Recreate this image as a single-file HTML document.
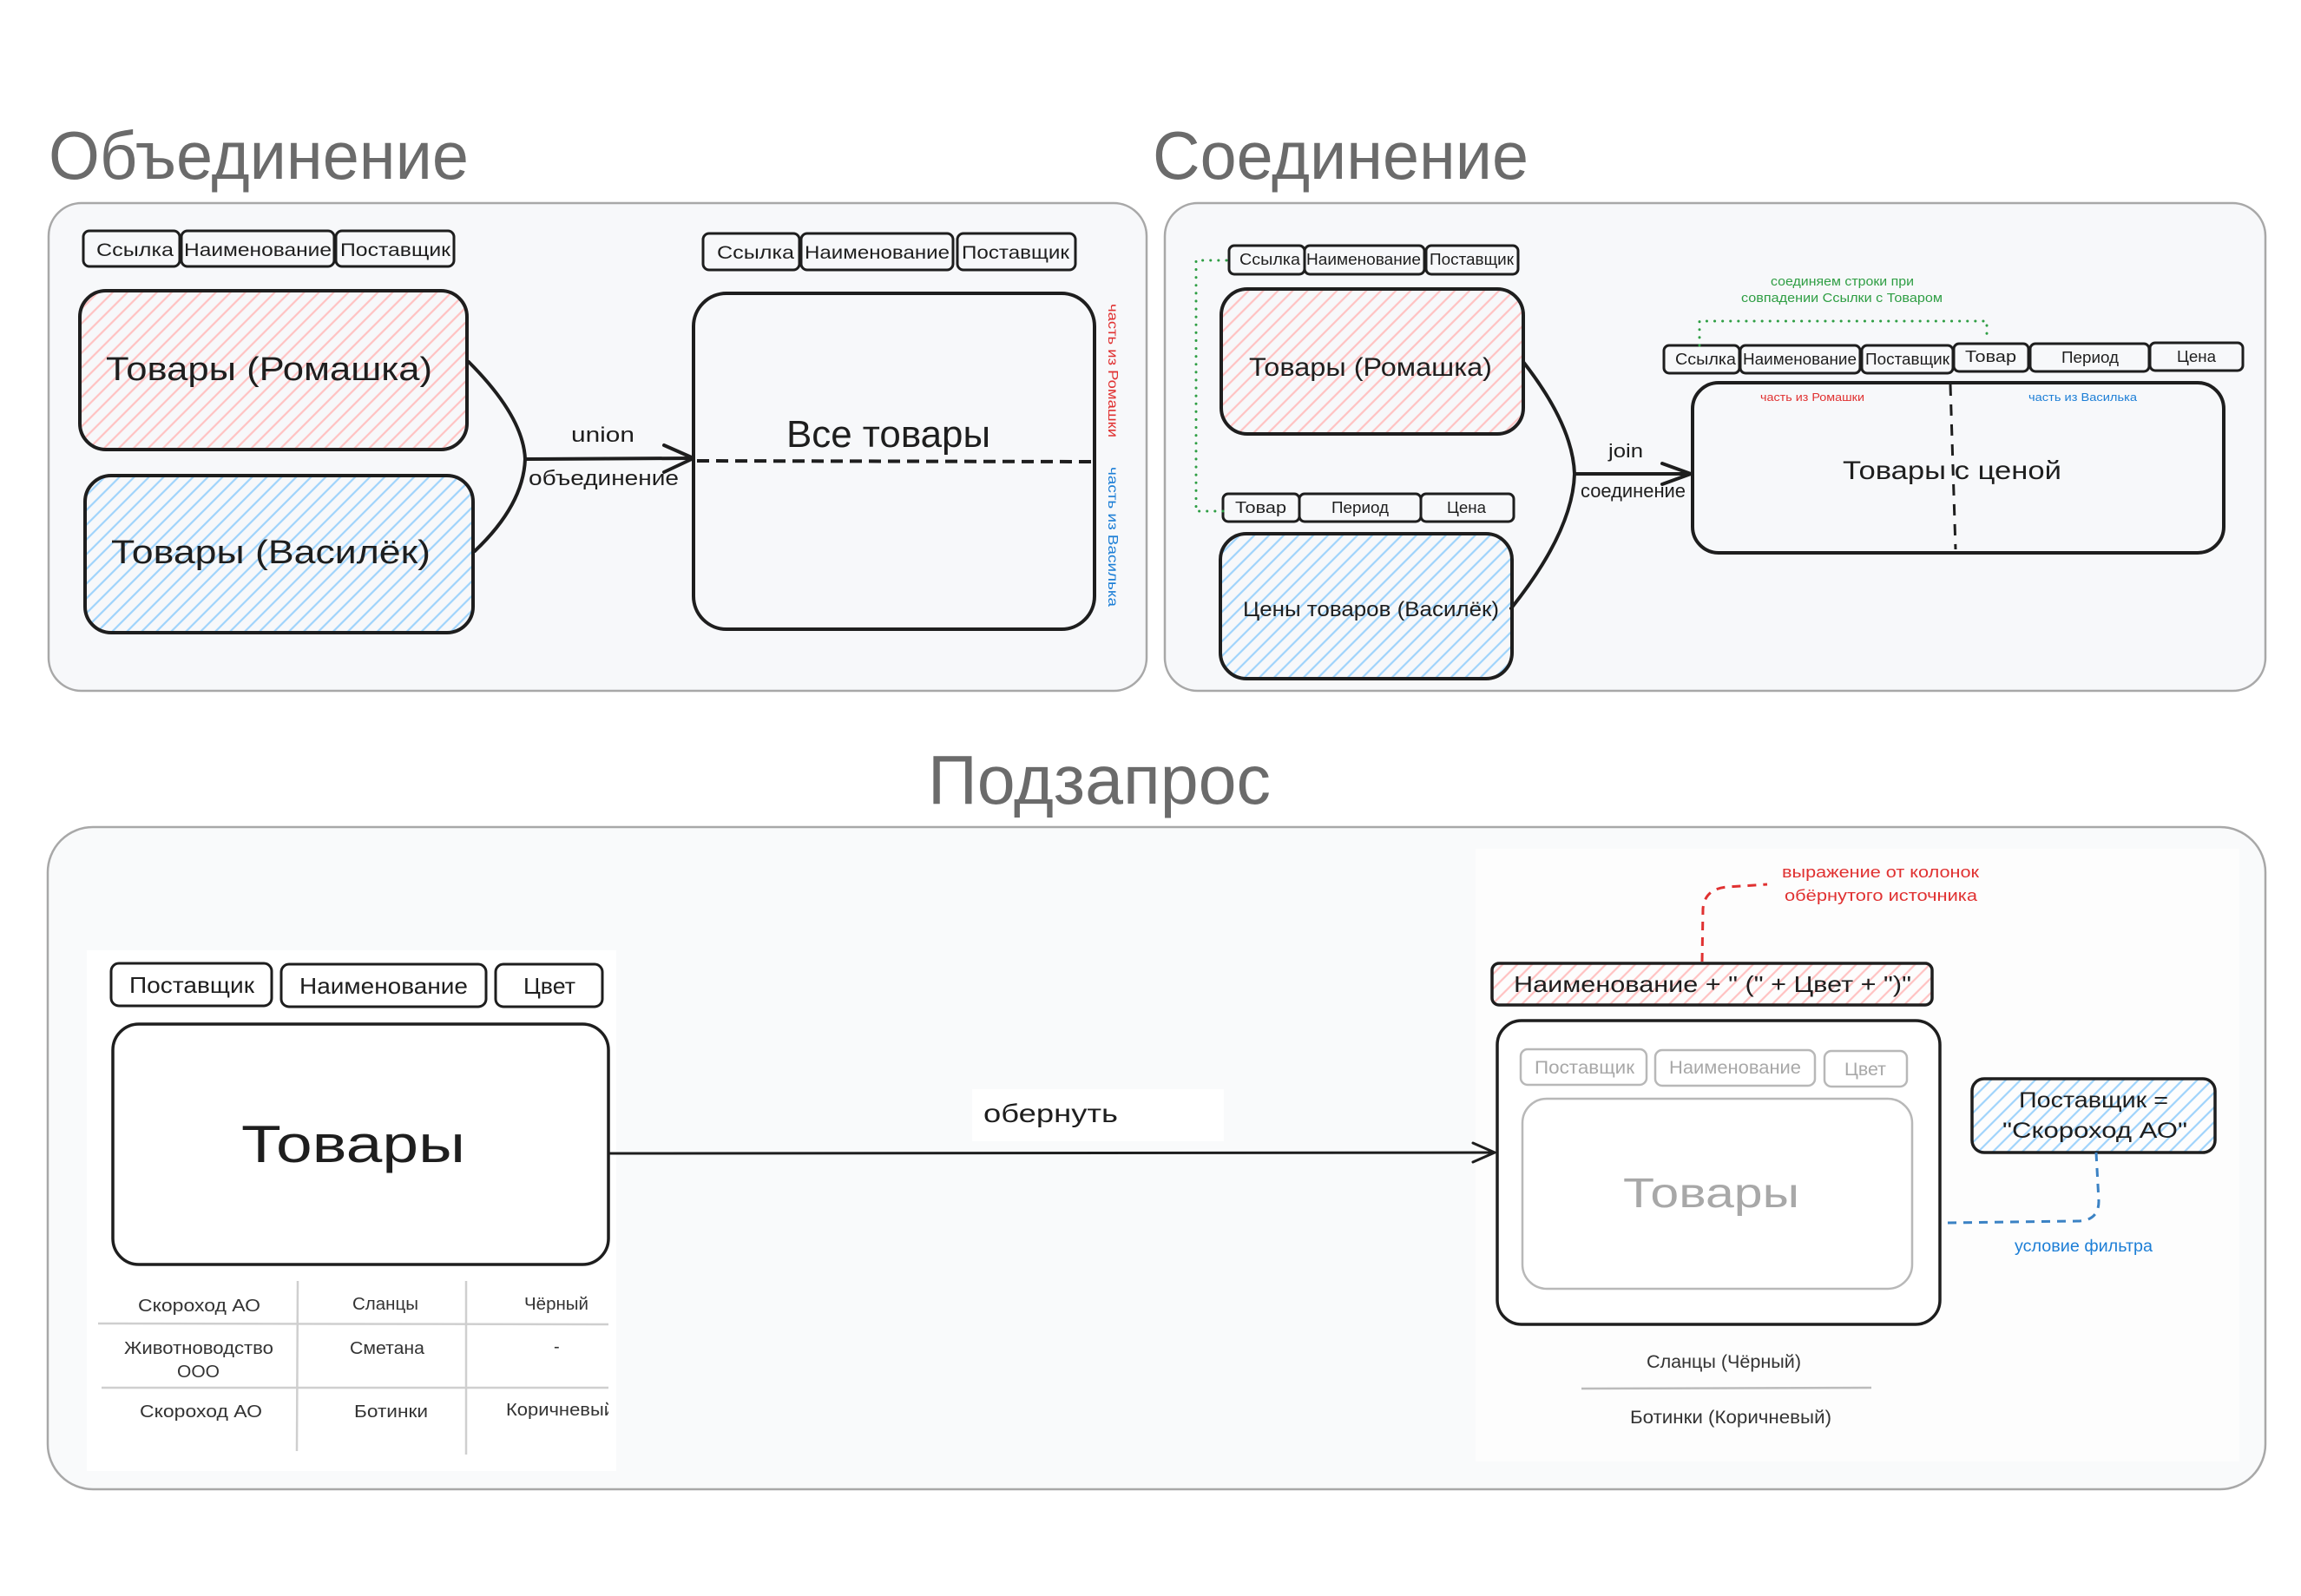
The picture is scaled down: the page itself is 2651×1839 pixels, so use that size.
<!DOCTYPE html>
<html><head><meta charset="utf-8"><style>
html,body{margin:0;padding:0;background:#fff;}
svg{display:block;}
text{font-family:"Liberation Sans","Noto Sans CJK SC",sans-serif;}
</style></head><body>
<svg width="2651" height="1839" viewBox="0 0 2651 1839" xmlns="http://www.w3.org/2000/svg">
<defs>
<pattern id="pk" patternUnits="userSpaceOnUse" width="12" height="12" patternTransform="rotate(45)">
<line x1="6" y1="0" x2="6" y2="12" stroke="#ffc2c2" stroke-width="2.2"/>
</pattern>
<pattern id="bl" patternUnits="userSpaceOnUse" width="12" height="12" patternTransform="rotate(45)">
<line x1="6" y1="0" x2="6" y2="12" stroke="#9fd3fb" stroke-width="2.2"/>
</pattern>
</defs>
<rect width="2651" height="1839" fill="#fff"/>

<!-- Titles -->
<g fill="#6b6b6b">
<text x="56" y="206" font-size="78" textLength="484" lengthAdjust="spacingAndGlyphs">Объединение</text>
<text x="1328" y="206" font-size="78" textLength="433" lengthAdjust="spacingAndGlyphs">Соединение</text>
<text x="1069" y="926" font-size="80" textLength="395" lengthAdjust="spacingAndGlyphs">Подзапрос</text>
</g>

<!-- Panels -->
<rect x="56" y="234" width="1265" height="562" rx="38" fill="#f7f8fa" stroke="#a8a8a8" stroke-width="2.5"/>
<rect x="1342" y="234" width="1268" height="562" rx="38" fill="#f7f8fa" stroke="#a8a8a8" stroke-width="2.5"/>
<rect x="55" y="953" width="2555" height="763" rx="52" fill="#f9fafb" stroke="#a8a8a8" stroke-width="2.5"/>
<rect x="100" y="1095" width="610" height="600" fill="#ffffff"/>
<rect x="1700" y="978" width="880" height="706" fill="#fdfdfd"/>
<rect x="1120" y="1255" width="290" height="60" fill="#ffffff"/>

<!-- ===== Panel 1 ===== -->
<g fill="none" stroke="#1e1e1e" stroke-width="3">
<rect x="96" y="266" width="111" height="41" rx="7"/>
<rect x="209" y="266" width="176" height="41" rx="7"/>
<rect x="387" y="266" width="136" height="41" rx="7"/>
<rect x="810" y="269" width="111" height="42" rx="7"/>
<rect x="923" y="269" width="175" height="42" rx="7"/>
<rect x="1103" y="269" width="136" height="42" rx="7"/>
</g>
<g fill="#1e1e1e" font-size="21">
<text x="111" y="295" textLength="89" lengthAdjust="spacingAndGlyphs">Ссылка</text>
<text x="212" y="295" textLength="170" lengthAdjust="spacingAndGlyphs">Наименование</text>
<text x="392" y="295" textLength="127" lengthAdjust="spacingAndGlyphs">Поставщик</text>
<text x="826" y="298" textLength="89" lengthAdjust="spacingAndGlyphs">Ссылка</text>
<text x="927" y="298" textLength="167" lengthAdjust="spacingAndGlyphs">Наименование</text>
<text x="1108" y="298" textLength="124" lengthAdjust="spacingAndGlyphs">Поставщик</text>
</g>
<rect x="92" y="335" width="446" height="183" rx="30" fill="url(#pk)" stroke="#1e1e1e" stroke-width="4"/>
<rect x="98" y="548" width="447" height="181" rx="30" fill="url(#bl)" stroke="#1e1e1e" stroke-width="4"/>
<g fill="#1e1e1e" font-size="38">
<text x="122" y="438" textLength="376" lengthAdjust="spacingAndGlyphs">Товары (Ромашка)</text>
<text x="128" y="649" textLength="368" lengthAdjust="spacingAndGlyphs">Товары (Василёк)</text>
</g>
<g fill="none" stroke="#1e1e1e" stroke-width="4" stroke-linecap="round" stroke-linejoin="round">
<path d="M540,417 Q603,480 605,529 Q603,582 547,635"/>
<path d="M605,529 L799,528"/>
<path d="M765,513 L799,528 L765,544"/>
</g>
<g fill="#1e1e1e" font-size="24">
<text x="658" y="509" textLength="73" lengthAdjust="spacingAndGlyphs">union</text>
<text x="609" y="559" textLength="173" lengthAdjust="spacingAndGlyphs">объединение</text>
</g>
<rect x="799" y="338" width="462" height="387" rx="38" fill="none" stroke="#1e1e1e" stroke-width="4"/>
<text x="906" y="515" font-size="44" fill="#1e1e1e" textLength="235" lengthAdjust="spacingAndGlyphs">Все товары</text>
<path d="M803,531 L1263,532" stroke="#1e1e1e" stroke-width="4" stroke-dasharray="14 8" fill="none"/>
<text transform="translate(1277,350) rotate(90)" font-size="16" fill="#e03131" textLength="154" lengthAdjust="spacingAndGlyphs">часть из Ромашки</text>
<text transform="translate(1277,538) rotate(90)" font-size="16" fill="#1c7ed6" textLength="161" lengthAdjust="spacingAndGlyphs">часть из Василька</text>

<!-- ===== Panel 2 ===== -->
<g fill="none" stroke="#1e1e1e" stroke-width="3">
<rect x="1416" y="283" width="87" height="33" rx="6"/>
<rect x="1503" y="283" width="138" height="33" rx="6"/>
<rect x="1643" y="283" width="106" height="33" rx="6"/>
<rect x="1409" y="569" width="88" height="32" rx="6"/>
<rect x="1497" y="569" width="140" height="32" rx="6"/>
<rect x="1637" y="569" width="107" height="32" rx="6"/>
<rect x="1917" y="398" width="87" height="32" rx="6"/>
<rect x="2005" y="398" width="138" height="32" rx="6"/>
<rect x="2145" y="398" width="105" height="32" rx="6"/>
<rect x="2251" y="396" width="86" height="32" rx="6"/>
<rect x="2339" y="396" width="137" height="32" rx="6"/>
<rect x="2477" y="395" width="107" height="32" rx="6"/>
</g>
<g fill="#1e1e1e" font-size="18">
<text x="1428" y="305" textLength="70" lengthAdjust="spacingAndGlyphs">Ссылка</text>
<text x="1505" y="305" textLength="132" lengthAdjust="spacingAndGlyphs">Наименование</text>
<text x="1647" y="305" textLength="97" lengthAdjust="spacingAndGlyphs">Поставщик</text>
<text x="1423" y="591" textLength="59" lengthAdjust="spacingAndGlyphs">Товар</text>
<text x="1534" y="591" textLength="66" lengthAdjust="spacingAndGlyphs">Период</text>
<text x="1667" y="591" textLength="45" lengthAdjust="spacingAndGlyphs">Цена</text>
<text x="1930" y="420" textLength="70" lengthAdjust="spacingAndGlyphs">Ссылка</text>
<text x="2008" y="420" textLength="131" lengthAdjust="spacingAndGlyphs">Наименование</text>
<text x="2149" y="420" textLength="97" lengthAdjust="spacingAndGlyphs">Поставщик</text>
<text x="2264" y="417" textLength="59" lengthAdjust="spacingAndGlyphs">Товар</text>
<text x="2375" y="418" textLength="66" lengthAdjust="spacingAndGlyphs">Период</text>
<text x="2508" y="417" textLength="45" lengthAdjust="spacingAndGlyphs">Цена</text>
</g>
<g fill="none" stroke="#2f9e44" stroke-width="3" stroke-linecap="round" stroke-dasharray="0.1 9">
<path d="M1413,300 L1378,300 L1378,589 L1409,589"/>
<path d="M1958,398 L1958,370 L2289,370 L2289,392"/>
</g>
<g fill="#2f9e44" font-size="15">
<text x="2040" y="329" textLength="165" lengthAdjust="spacingAndGlyphs">соединяем строки при</text>
<text x="2006" y="348" textLength="232" lengthAdjust="spacingAndGlyphs">совпадении Ссылки с Товаром</text>
</g>
<rect x="1407" y="333" width="348" height="167" rx="30" fill="url(#pk)" stroke="#1e1e1e" stroke-width="4"/>
<rect x="1406" y="615" width="336" height="167" rx="30" fill="url(#bl)" stroke="#1e1e1e" stroke-width="4"/>
<text x="1439" y="433" font-size="30" fill="#1e1e1e" textLength="280" lengthAdjust="spacingAndGlyphs">Товары (Ромашка)</text>
<text x="1432" y="710" font-size="24" fill="#1e1e1e" textLength="295" lengthAdjust="spacingAndGlyphs">Цены товаров (Василёк)</text>
<g fill="none" stroke="#1e1e1e" stroke-width="4" stroke-linecap="round" stroke-linejoin="round">
<path d="M1755,417 Q1812,490 1814,546 Q1812,612 1741,701"/>
<path d="M1814,546 L1948,546"/>
<path d="M1915,534 L1948,546 L1915,558"/>
</g>
<g fill="#1e1e1e" font-size="22">
<text x="1853" y="527" textLength="40" lengthAdjust="spacingAndGlyphs">join</text>
<text x="1821" y="573" textLength="121" lengthAdjust="spacingAndGlyphs">соединение</text>
</g>
<rect x="1950" y="441" width="612" height="196" rx="30" fill="none" stroke="#1e1e1e" stroke-width="4"/>
<path d="M2247,443 L2253,633" stroke="#1e1e1e" stroke-width="3" stroke-dasharray="13 10" fill="none"/>
<text x="2028" y="462" font-size="13" fill="#e03131" textLength="120" lengthAdjust="spacingAndGlyphs">часть из Ромашки</text>
<text x="2337" y="462" font-size="13" fill="#1c7ed6" textLength="125" lengthAdjust="spacingAndGlyphs">часть из Василька</text>
<text x="2123" y="552" font-size="30" fill="#1e1e1e" textLength="252" lengthAdjust="spacingAndGlyphs">Товары с ценой</text>

<!-- ===== Panel 3 ===== -->
<g fill="none" stroke="#1e1e1e" stroke-width="3">
<rect x="128" y="1110" width="185" height="49" rx="9"/>
<rect x="324" y="1111" width="236" height="49" rx="9"/>
<rect x="571" y="1111" width="123" height="49" rx="9"/>
</g>
<g fill="#1e1e1e" font-size="26">
<text x="149" y="1144" textLength="144" lengthAdjust="spacingAndGlyphs">Поставщик</text>
<text x="345" y="1145" textLength="194" lengthAdjust="spacingAndGlyphs">Наименование</text>
<text x="603" y="1145" textLength="60" lengthAdjust="spacingAndGlyphs">Цвет</text>
</g>
<rect x="130" y="1180" width="571" height="277" rx="30" fill="#fff" stroke="#1e1e1e" stroke-width="3.5"/>
<text x="278" y="1339" font-size="60" fill="#1e1e1e" textLength="258" lengthAdjust="spacingAndGlyphs">Товары</text>
<g stroke="#cfcfcf" stroke-width="2.5">
<line x1="343" y1="1476" x2="342" y2="1672"/>
<line x1="537" y1="1476" x2="537" y2="1676"/>
<line x1="113" y1="1525" x2="701" y2="1526"/>
<line x1="117" y1="1599" x2="701" y2="1599"/>
</g>
<g fill="#333" font-size="20">
<text x="159" y="1511" textLength="141" lengthAdjust="spacingAndGlyphs">Скороход АО</text>
<text x="406" y="1509" textLength="76" lengthAdjust="spacingAndGlyphs">Сланцы</text>
<text x="604" y="1509" textLength="74" lengthAdjust="spacingAndGlyphs">Чёрный</text>
<text x="143" y="1560" textLength="172" lengthAdjust="spacingAndGlyphs">Животноводство</text>
<text x="204" y="1587" textLength="49" lengthAdjust="spacingAndGlyphs">ООО</text>
<text x="403" y="1560" textLength="86" lengthAdjust="spacingAndGlyphs">Сметана</text>
<text x="638" y="1558">-</text>
<text x="161" y="1633" textLength="141" lengthAdjust="spacingAndGlyphs">Скороход АО</text>
<text x="408" y="1633" textLength="85" lengthAdjust="spacingAndGlyphs">Ботинки</text>
</g>
<svg x="560" y="1600" width="141" height="60" overflow="hidden">
<text x="23" y="31" font-size="20" fill="#333" textLength="125" lengthAdjust="spacingAndGlyphs" font-family="Liberation Sans, sans-serif">Коричневый</text>
</svg>

<g fill="none" stroke="#1e1e1e" stroke-width="3" stroke-linecap="round" stroke-linejoin="round">
<path d="M703,1329 L1722,1328"/>
<path d="M1697,1317 L1722,1328 L1697,1339"/>
</g>
<text x="1133" y="1293" font-size="30" fill="#1e1e1e" textLength="155" lengthAdjust="spacingAndGlyphs">обернуть</text>

<path d="M1961,1108 L1962,1047 Q1964,1024 1990,1022 L2036,1019" fill="none" stroke="#e03131" stroke-width="3" stroke-dasharray="10 8"/>
<g fill="#e03131" font-size="18">
<text x="2053" y="1011" textLength="227" lengthAdjust="spacingAndGlyphs">выражение от колонок</text>
<text x="2056" y="1038" textLength="222" lengthAdjust="spacingAndGlyphs">обёрнутого источника</text>
</g>
<rect x="1719" y="1110" width="507" height="48" rx="8" fill="url(#pk)" stroke="#1e1e1e" stroke-width="3.5"/>
<text x="1744" y="1143" font-size="26" fill="#1e1e1e" textLength="458" lengthAdjust="spacingAndGlyphs">Наименование + " (" + Цвет + ")"</text>

<rect x="1725" y="1176" width="510" height="350" rx="28" fill="#fff" stroke="#1e1e1e" stroke-width="3.5"/>
<g fill="none" stroke="#b8b8b8" stroke-width="2.5">
<rect x="1752" y="1209" width="145" height="41" rx="8"/>
<rect x="1907" y="1210" width="184" height="41" rx="8"/>
<rect x="2102" y="1211" width="95" height="41" rx="8"/>
<rect x="1754" y="1266" width="449" height="219" rx="28"/>
</g>
<g fill="#a8a8a8" font-size="21">
<text x="1768" y="1237" textLength="115" lengthAdjust="spacingAndGlyphs">Поставщик</text>
<text x="1923" y="1237" textLength="152" lengthAdjust="spacingAndGlyphs">Наименование</text>
<text x="2125" y="1239" textLength="48" lengthAdjust="spacingAndGlyphs">Цвет</text>
</g>
<text x="1870" y="1391" font-size="48" fill="#a8a8a8" textLength="203" lengthAdjust="spacingAndGlyphs">Товары</text>

<rect x="2272" y="1243" width="280" height="85" rx="14" fill="url(#bl)" stroke="#1e1e1e" stroke-width="3.5"/>
<g fill="#1e1e1e" font-size="25">
<text x="2326" y="1276" textLength="172" lengthAdjust="spacingAndGlyphs">Поставщик =</text>
<text x="2307" y="1311" textLength="213" lengthAdjust="spacingAndGlyphs">"Скороход АО"</text>
</g>
<path d="M2415,1328 L2418,1384 Q2418,1407 2393,1407 L2243,1409" fill="none" stroke="#3b82c4" stroke-width="3" stroke-dasharray="10 8"/>
<text x="2321" y="1442" font-size="19" fill="#1c7ed6" textLength="159" lengthAdjust="spacingAndGlyphs">условие фильтра</text>

<text x="1897" y="1576" font-size="21" fill="#333" textLength="178" lengthAdjust="spacingAndGlyphs">Сланцы (Чёрный)</text>
<line x1="1822" y1="1600" x2="2156" y2="1599" stroke="#bbb" stroke-width="2.5"/>
<text x="1878" y="1640" font-size="21" fill="#333" textLength="232" lengthAdjust="spacingAndGlyphs">Ботинки (Коричневый)</text>
</svg>
</body></html>
